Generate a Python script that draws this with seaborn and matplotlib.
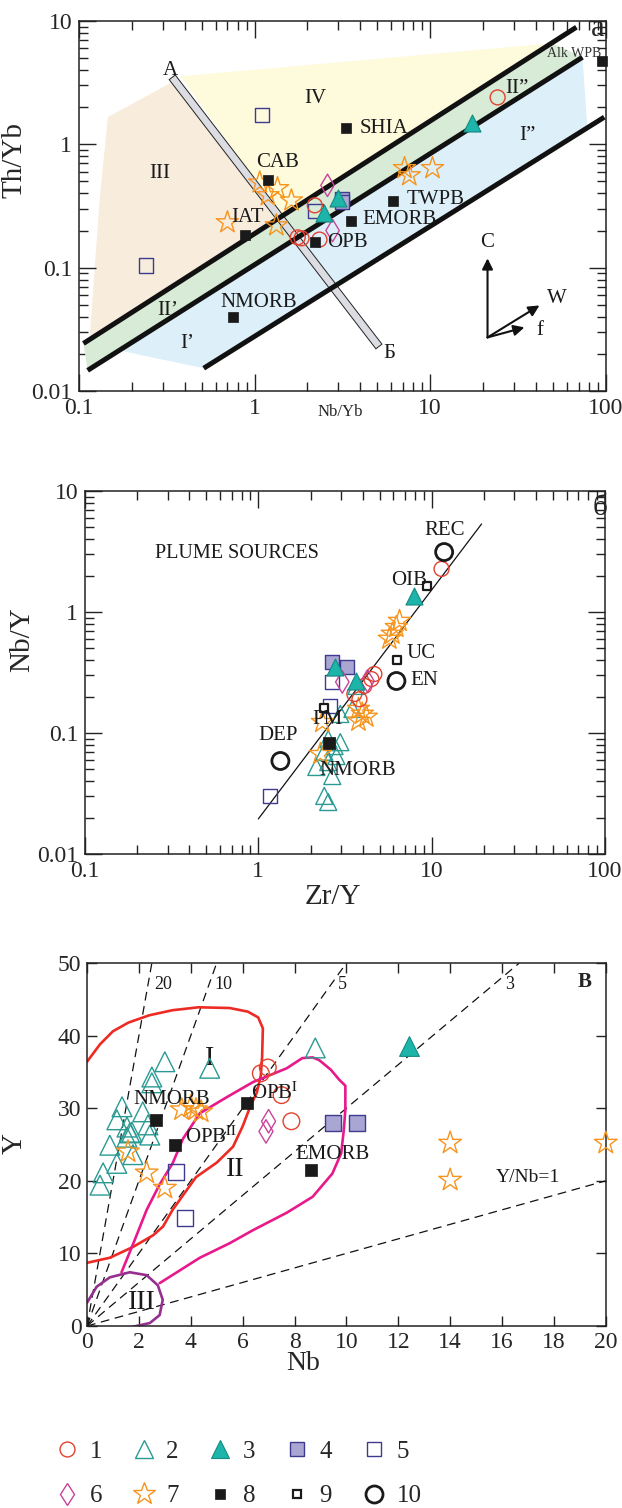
import matplotlib
matplotlib.use("Agg")
import matplotlib.pyplot as plt
import matplotlib.patheffects as pe
from matplotlib.lines import Line2D
from matplotlib.ticker import LogLocator, NullFormatter
import seaborn as sns

# ---------------- panel a: Th/Yb vs Nb/Yb ----------------
a_line1_x = [0.106, 68.0]
a_line1_y = [0.0243, 8.9]
a_line2_x = [0.112, 73.6]
a_line2_y = [0.0147, 5.08]
a_line3_x = [0.513, 98.0]
a_line3_y = [0.0153, 1.66]
a_bar_x = [0.35, 4.95]
a_bar_y = [3.3, 0.0243]

a_beige_x = [0.146, 0.337, 1.41, 0.115, 0.131]
a_beige_y = [1.66, 3.18, 0.261, 0.0267, 0.351]
a_yellow_x = [0.379, 49.7, 1.41]
a_yellow_y = [3.56, 6.59, 0.261]
a_green_x = [0.106, 49.7, 73.6, 0.112]
a_green_y = [0.0243, 6.59, 5.08, 0.0147]
a_blue_x = [0.17, 73.6, 78.6, 0.513]
a_blue_y = [0.0213, 5.08, 1.35, 0.0153]

a_g1_x = [24.2, 1.76, 1.85, 2.34, 2.2]
a_g1_y = [2.4, 0.176, 0.173, 0.169, 0.32]
a_g3_x = [17.4, 2.97, 2.47]
a_g3_y = [1.48, 0.37, 0.28]
a_g4_x = [3.13, 3.15]
a_g4_y = [0.36, 0.34]
a_g5_x = [1.1, 0.24, 2.22]
a_g5_y = [1.72, 0.104, 0.286]
a_g6_x = [2.6, 2.78]
a_g6_y = [0.465, 0.2]
a_g7_x = [1.07, 1.19, 1.35, 1.62, 1.33, 0.70, 7.14, 7.6, 10.3]
a_g7_y = [0.49, 0.386, 0.44, 0.35, 0.22, 0.233, 0.64, 0.56, 0.64]
a_ref_names = ["CAB", "IAT", "SHIA", "TWPB", "EMORB", "OPB", "NMORB", "Alk WPB"]
a_ref_x = [1.19, 0.877, 3.3, 6.1, 3.52, 2.2, 0.75, 95.0]
a_ref_y = [0.51, 0.183, 1.35, 0.345, 0.238, 0.16, 0.0395, 4.7]
a_ref_off = [(10, 18), (3, 18), (38, 0), (43, 2), (49, 2), (33, 0), (26, 15), (-28, 8)]

a_fields = ["III", "IV", "II\u2019", "I\u2019", "II\u201d", "I\u201d", "A", "\u0411"]
a_fields_x = [0.288, 2.22, 0.32, 0.416, 31.0, 35.8, 0.33, 5.87]
a_fields_y = [0.58, 2.36, 0.045, 0.0243, 2.85, 1.18, 4.0, 0.0202]

a_vec_origin = (21.2, 0.0272)
a_vec_names = ["C", "W", "f"]
a_vec_tip_x = [21.2, 41.9, 34.4]
a_vec_tip_y = [0.119, 0.0494, 0.0328]
a_vec_lab_x = [21.2, 52.3, 41.9]
a_vec_lab_y = [0.16, 0.0564, 0.031]

# ---------------- panel b: Nb/Y vs Zr/Y ----------------
b_fit_x = [1.0, 19.4]
b_fit_y = [0.0195, 5.34]

b_g1_x = [11.4, 4.49, 4.09, 3.58, 3.83, 4.67]
b_g1_y = [2.27, 0.279, 0.245, 0.21, 0.19, 0.307]
b_g2_x = [2.53, 2.75, 2.97, 2.4, 2.82, 2.53, 2.16, 2.67, 2.4, 2.53, 2.97, 3.49, 3.68]
b_g2_y = [0.089, 0.078, 0.084, 0.070, 0.0645, 0.0575, 0.0524, 0.0441, 0.0302, 0.0269, 0.1436, 0.158, 0.245]
b_g3_x = [7.94, 2.75, 3.67]
b_g3_y = [1.36, 0.351, 0.269]
b_g4_x = [2.67, 3.26]
b_g4_y = [0.386, 0.351]
b_g5_x = [2.67, 2.6, 1.17]
b_g5_y = [0.264, 0.167, 0.0302]
b_g6_x = [3.05, 4.26]
b_g6_y = [0.264, 0.269]
b_g7_x = [6.52, 6.25, 5.93, 5.7, 3.78, 3.98, 3.78, 4.2, 2.28, 2.34]
b_g7_y = [0.843, 0.75, 0.66, 0.6, 0.158, 0.144, 0.126, 0.136, 0.067, 0.123]
b_g8_names = ["NMORB"]
b_g8_x = [2.57]
b_g8_y = [0.0827]
b_g8_off = [(28, -28)]
b_g9_names = ["OIB", "UC", "PM"]
b_g9_x = [9.44, 6.34, 2.4]
b_g9_y = [1.64, 0.40, 0.161]
b_g9_off = [(-18, 6), (24, 7), (3, -12)]
b_g10_names = ["REC", "EN", "DEP"]
b_g10_x = [11.8, 6.26, 1.34]
b_g10_y = [3.13, 0.269, 0.0587]
b_g10_off = [(0, 22), (28, 0), (-2, 25)]

# ---------------- panel c: Y vs Nb ----------------
c_ratios = [20, 10, 5, 3, 1]
c_ratio_labels = ["20", "10", "5", "3", "Y/Nb=1"]
c_ratio_lab_x = [2.93, 5.25, 9.85, 16.3, 17.0]
c_ratio_lab_y = [47.0, 47.0, 47.0, 47.0, 20.4]

c_red_x = [0, 0.5, 1.0, 1.6, 2.4, 3.3, 4.3, 5.5, 6.2, 6.6, 6.78, 6.75, 6.7, 6.55, 6.3,
           6.0, 5.63, 5.0, 4.2, 3.8, 3.3, 2.93, 2.55, 1.78, 0.88, 0]
c_red_y = [36.4, 38.8, 40.6, 41.8, 42.8, 43.5, 43.9, 43.8, 43.3, 42.5, 41.0, 37.0, 34.5, 32.2, 30.3,
           27.5, 24.7, 22.5, 20.5, 18.5, 16.0, 13.7, 12.5, 10.9, 9.4, 8.7]
c_mag_x = [1.33, 1.8, 2.3, 2.8, 3.3, 3.7, 4.35, 5.38, 6.4, 7.7, 8.3, 8.7, 8.96, 9.4, 9.73, 9.96,
           9.96, 9.9, 9.8, 9.46, 8.7, 7.7, 6.4, 5.5, 4.35, 2.8]
c_mag_y = [7.4, 11.5, 16.0, 19.5, 22.4, 25.8, 29.3, 31.5, 33.6, 35.5, 36.9, 37.0, 36.6, 35.3, 33.9, 33.1,
           29.8, 27.0, 23.8, 21.0, 17.8, 15.6, 13.2, 11.4, 9.4, 5.9]
c_pur_x = [0, 0.37, 0.88, 1.65, 2.3, 2.73, 2.92, 2.8, 2.42, 1.77]
c_pur_y = [3.2, 5.4, 6.7, 7.4, 7.0, 5.6, 3.6, 1.5, 0.4, -0.1]

c_g1_x = [6.7, 6.97, 7.5, 7.88]
c_g1_y = [34.8, 35.6, 31.8, 28.2]
c_g2_x = [8.8, 4.73, 3.0, 2.5, 2.5, 1.35, 1.15, 2.15, 2.35, 1.54, 1.73, 0.62, 0.5, 1.15, 1.77,
          0.88, 1.54, 2.42, 1.65]
c_g2_y = [38.3, 35.5, 36.4, 34.3, 33.5, 30.2, 28.4, 29.5, 27.7, 27.4, 26.7, 21.1, 19.4, 22.4, 23.6,
          24.9, 26.0, 26.3, 26.6]
c_g3_x = [12.4]
c_g3_y = [38.6]
c_g4_x = [9.5, 10.4]
c_g4_y = [28.0, 28.0]
c_g5_x = [3.42, 3.77]
c_g5_y = [21.2, 14.9]
c_g6_x = [6.9, 7.0]
c_g6_y = [26.8, 28.2]
c_g7_x = [14.0, 14.0, 20.0, 3.65, 4.0, 4.2, 4.4, 1.58, 2.3, 3.0]
c_g7_y = [25.2, 20.1, 25.2, 29.8, 30.2, 29.8, 29.5, 24.0, 21.1, 19.0]
c_g8_names = ["NMORB", r"OPB$^{\mathrm{I}}$", r"OPB$^{\mathrm{II}}$", "EMORB"]
c_g8_x = [2.65, 6.15, 3.38, 8.65]
c_g8_y = [28.4, 30.7, 24.9, 21.5]
c_g8_off = [(16, 20), (28, 10), (36, 8), (21, 15)]
c_fields = ["I", "II", "III"]
c_fields_x = [4.73, 5.7, 2.1]
c_fields_y = [36.9, 21.5, 3.3]

legend_labels = ["1", "2", "3", "4", "5", "6", "7", "8", "9", "10"]

STY = {
    1: dict(marker="o", s=115, fc="none", ec="#e3412f", lw=1.0),
    2: dict(marker="^", s=150, fc="none", ec="#2a9a92", lw=1.0),
    3: dict(marker="^", s=150, fc="#1db4aa", ec="#168a83", lw=0.8),
    4: dict(marker="s", s=105, fc="#aaa6d3", ec="#3d3a90", lw=1.0),
    5: dict(marker="s", s=105, fc="none", ec="#3d3a90", lw=1.0),
    6: dict(marker="d", s=130, fc="none", ec="#c8449a", lw=1.0),
    7: dict(marker="*", s=280, fc="none", ec="#f7941d", lw=1.0),
    8: dict(marker="s", s=50, fc="#1a1a1a", ec="#1a1a1a", lw=0.5),
    9: dict(marker="s", s=28, fc="white", ec="#1a1a1a", lw=1.6),
    10: dict(marker="o", s=150, fc="none", ec="#1a1a1a", lw=2.0),
}

sns.set_style("ticks")
plt.rcParams["font.family"] = ["Liberation Serif", "DejaVu Serif"]
plt.rcParams["mathtext.fontset"] = "stix"
plt.rcParams["axes.linewidth"] = 1.1
plt.rcParams["axes.edgecolor"] = "#222222"

LABEL_FS = 15


def pts(ax, x, y, g, scale=1.0, z=5):
    st = STY[g]
    sns.scatterplot(x=x, y=y, ax=ax, marker=st["marker"], s=st["s"] * scale,
                    facecolor=st["fc"], edgecolor=st["ec"], linewidth=st["lw"],
                    zorder=z, legend=False, clip_on=False)


def labels(ax, names, x, y, off, fs=LABEL_FS):
    for n, xi, yi, (dx, dy) in zip(names, x, y, off):
        ax.annotate(n, (xi, yi), xytext=(dx, dy), textcoords="offset pixels",
                    ha="center", va="center", fontsize=fs, color="#1a1a1a", zorder=6)


def log_axes(ax):
    ax.set_xscale("log")
    ax.set_yscale("log")
    ax.set_xlim(0.1, 100)
    ax.set_ylim(0.01, 10)
    ax.set_xticks([0.1, 1, 10, 100])
    ax.set_xticklabels(["0.1", "1", "10", "100"])
    ax.set_yticks([0.01, 0.1, 1, 10])
    ax.set_yticklabels(["0.01", "0.1", "1", "10"])
    for axis in (ax.xaxis, ax.yaxis):
        axis.set_minor_locator(LogLocator(base=10, subs=range(2, 10)))
        axis.set_minor_formatter(NullFormatter())
    ax.tick_params(which="both", direction="in", top=True, right=True, width=1.0, color="#222222")
    ax.tick_params(which="major", length=12.5, labelsize=17, pad=5)
    ax.tick_params(which="minor", length=6.5)


fig = plt.figure(figsize=(6.22, 15.08), dpi=100)

# ---------- panel a ----------
ax1 = fig.add_axes([0.127, 0.7407, 0.847, 0.2454])
log_axes(ax1)
ax1.fill(a_beige_x, a_beige_y, color="#f8ecdd", lw=0, zorder=0.5)
ax1.fill(a_yellow_x, a_yellow_y, color="#fefadc", lw=0, zorder=0.5)
ax1.fill(a_green_x, a_green_y, color="#d7ebd6", lw=0, zorder=0.6)
ax1.fill(a_blue_x, a_blue_y, color="#ddeff9", lw=0, zorder=0.6)
ax1.plot(a_bar_x, a_bar_y, color="#dcdce3", lw=4.8, solid_capstyle="projecting", zorder=2,
         path_effects=[pe.Stroke(linewidth=6.2, foreground="#222222", capstyle="projecting"), pe.Normal()])
for lx, ly in [(a_line1_x, a_line1_y), (a_line2_x, a_line2_y), (a_line3_x, a_line3_y)]:
    ax1.plot(lx, ly, color="#111111", lw=3.6, solid_capstyle="butt", zorder=3)

pts(ax1, a_g7_x, a_g7_y, 7)
pts(ax1, a_g5_x, a_g5_y, 5)
pts(ax1, a_g4_x, a_g4_y, 4)
pts(ax1, a_g1_x, a_g1_y, 1)
pts(ax1, a_g6_x, a_g6_y, 6)
pts(ax1, a_g3_x, a_g3_y, 3)
pts(ax1, a_ref_x, a_ref_y, 8, z=6)
labels(ax1, a_ref_names[:-1], a_ref_x[:-1], a_ref_y[:-1], a_ref_off[:-1])
ax1.annotate(a_ref_names[-1], (a_ref_x[-1], a_ref_y[-1]), xytext=a_ref_off[-1],
             textcoords="offset pixels", ha="center", va="center", fontsize=10, color="#333333")
for n, xi, yi in zip(a_fields, a_fields_x, a_fields_y):
    ax1.text(xi, yi, n, ha="center", va="center", fontsize=LABEL_FS, color="#1a1a1a", zorder=6)
for xt, yt in zip(a_vec_tip_x, a_vec_tip_y):
    ax1.annotate("", xy=(xt, yt), xytext=a_vec_origin,
                 arrowprops=dict(arrowstyle="-|>", color="#111111", lw=1.5, mutation_scale=16,
                                 shrinkA=0, shrinkB=0))
for n, xi, yi in zip(a_vec_names, a_vec_lab_x, a_vec_lab_y):
    ax1.text(xi, yi, n, ha="center", va="center", fontsize=LABEL_FS, color="#1a1a1a")
ax1.text(0.985, 0.959, "\u0430", transform=ax1.transAxes, ha="center", va="baseline", fontsize=22)
ax1.set_xlabel("Nb/Yb", fontsize=12)
ax1.xaxis.set_label_coords(0.495, -0.036)
ax1.set_ylabel("Th/Yb", fontsize=21)
ax1.yaxis.set_label_coords(-0.098, 0.624)

# ---------- panel b ----------
ax2 = fig.add_axes([0.1367, 0.4337, 0.836, 0.2407])
log_axes(ax2)
ax2.plot(b_fit_x, b_fit_y, color="#111111", lw=0.9, zorder=2)
pts(ax2, b_g2_x, b_g2_y, 2)
pts(ax2, b_g7_x, b_g7_y, 7)
pts(ax2, b_g1_x, b_g1_y, 1)
pts(ax2, b_g5_x, b_g5_y, 5)
pts(ax2, b_g4_x, b_g4_y, 4)
pts(ax2, b_g6_x, b_g6_y, 6)
pts(ax2, b_g3_x, b_g3_y, 3)
pts(ax2, b_g8_x, b_g8_y, 8, scale=1.4, z=6)
pts(ax2, b_g9_x, b_g9_y, 9, z=6)
pts(ax2, b_g10_x, b_g10_y, 10, z=6)
labels(ax2, b_g8_names, b_g8_x, b_g8_y, b_g8_off)
labels(ax2, b_g9_names, b_g9_x, b_g9_y, b_g9_off)
labels(ax2, b_g10_names, b_g10_x, b_g10_y, b_g10_off)
ax2.text(0.135, 0.829, "PLUME SOURCES", transform=ax2.transAxes, ha="left", va="center",
         fontsize=14.5, color="#1a1a1a")
ax2.text(0.99, 0.953, "\u0431", transform=ax2.transAxes, ha="center", va="center", fontsize=21)
ax2.set_xlabel("Zr/Y", fontsize=21)
ax2.xaxis.set_label_coords(0.477, -0.082)
ax2.set_ylabel("Nb/Y", fontsize=21)
ax2.yaxis.set_label_coords(-0.096, 0.59)

# ---------- panel c ----------
ax3 = fig.add_axes([0.1399, 0.1207, 0.834, 0.2407])
ax3.set_xlim(0, 20)
ax3.set_ylim(0, 50)
ax3.set_xticks(range(0, 21, 2))
ax3.set_yticks(range(0, 51, 10))
ax3.tick_params(which="both", direction="in", top=True, right=True, length=7, width=1.0,
                labelsize=17, pad=4, color="#222222")
for r in c_ratios:
    xe = min(20.0, 50.0 / r)
    ax3.plot([0, xe], [0, r * xe], color="#111111", lw=0.9, ls=(0, (7, 4.5)), zorder=1)
for n, xi, yi in zip(c_ratio_labels, c_ratio_lab_x, c_ratio_lab_y):
    ax3.text(xi, yi, n, ha="center", va="center", fontsize=13 if len(n) < 3 else 14,
             color="#1a1a1a")
ax3.plot(c_red_x, c_red_y, color="#ee2a24", lw=1.9, zorder=2)
ax3.plot(c_mag_x, c_mag_y, color="#e8198b", lw=1.9, zorder=2)
ax3.plot(c_pur_x, c_pur_y, color="#96308f", lw=1.9, zorder=2)
pts(ax3, c_g2_x, c_g2_y, 2, scale=1.35)
pts(ax3, c_g7_x, c_g7_y, 7, scale=1.05)
pts(ax3, c_g1_x, c_g1_y, 1, scale=1.25)
pts(ax3, c_g5_x, c_g5_y, 5, scale=1.3)
pts(ax3, c_g4_x, c_g4_y, 4, scale=1.3)
pts(ax3, c_g6_x, c_g6_y, 6, scale=1.1)
pts(ax3, c_g3_x, c_g3_y, 3, scale=1.35)
pts(ax3, c_g8_x, c_g8_y, 8, scale=1.4, z=6)
labels(ax3, c_g8_names, c_g8_x, c_g8_y, c_g8_off, fs=15)
for n, xi, yi in zip(c_fields, c_fields_x, c_fields_y):
    ax3.text(xi, yi, n, ha="center", va="center", fontsize=20, color="#1a1a1a")
ax3.text(0.96, 0.948, "\u0412", transform=ax3.transAxes, ha="center", va="center",
         fontsize=15, fontweight="bold")
ax3.set_xlabel("Nb", fontsize=20)
ax3.xaxis.set_label_coords(0.416, -0.07)
ax3.set_ylabel("Y", fontsize=21)
ax3.yaxis.set_label_coords(-0.114, 0.504)

# ---------- legend ----------
handles = []
for g in range(1, 11):
    st = STY[g]
    ms = st["s"] ** 0.5
    handles.append(Line2D([], [], ls="none", marker=st["marker"], markersize=ms,
                          markerfacecolor=st["fc"], markeredgecolor=st["ec"],
                          markeredgewidth=st["lw"]))
order = [0, 5, 1, 6, 2, 7, 3, 8, 4, 9]
fig.legend([handles[i] for i in order], [legend_labels[i] for i in order], ncol=5,
           loc="upper left", bbox_to_anchor=(0.0876, 0.0448), frameon=False, fontsize=18,
           handlelength=1.0, handletextpad=0.4, columnspacing=1.17, labelspacing=0.88,
           borderpad=0, borderaxespad=0)

fig.savefig("out.png", dpi=100)
